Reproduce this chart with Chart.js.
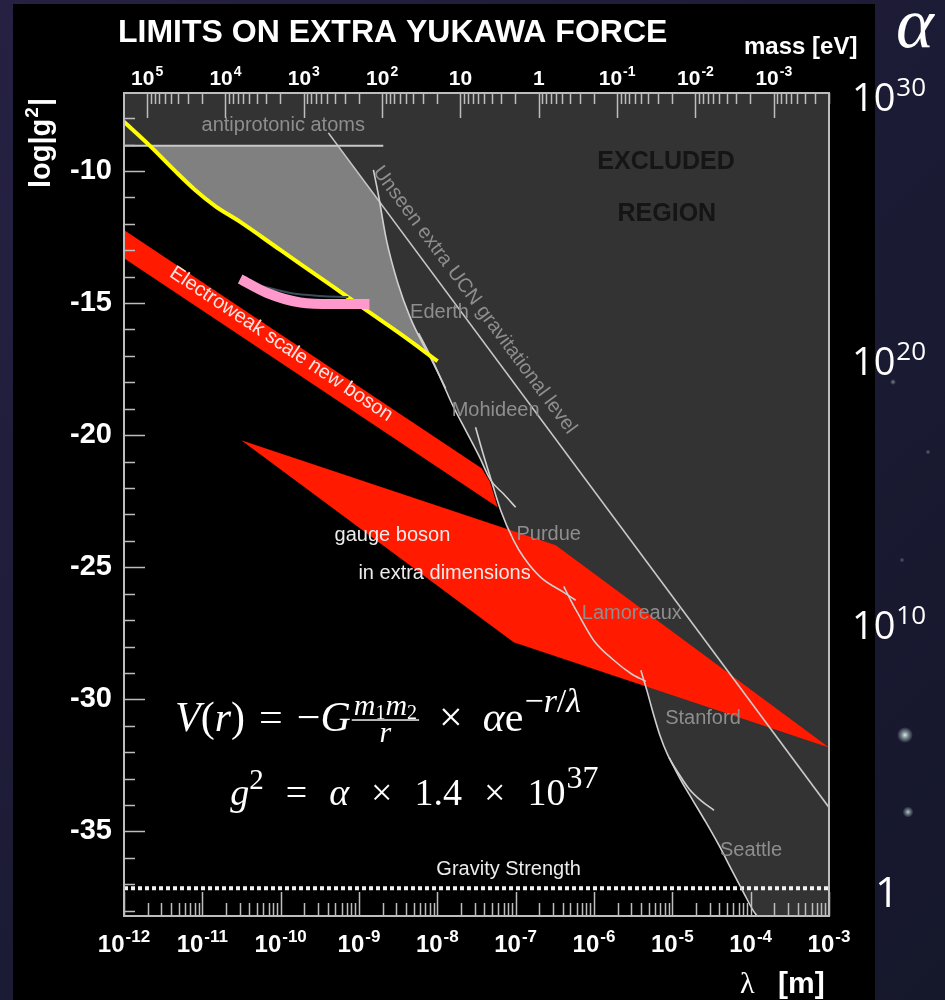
<!DOCTYPE html>
<html lang="en">
<head>
<meta charset="utf-8">
<title>Limits on extra Yukawa force</title>
<script src="https://cdn.jsdelivr.net/npm/chart.js@4.4.1/dist/chart.umd.min.js"></script>
<style>
  html, body { margin: 0; padding: 0; background: #18172b; }
  #chart { display: block; }
</style>
</head>
<body>
<canvas id="chart" width="945" height="1000"></canvas>
<script>
// ---------------------------------------------------------------------------
// Axes: x = log10(λ / m), y = log10 |g²|, top = log10(mass / eV), right = log10 α
// ---------------------------------------------------------------------------
const LAMBDA_MIN = -12, LAMBDA_MAX = -3;
const G2_MIN = -38.2, G2_MAX = -7.05;
const LOG_HBARC = Math.log10(1.97327e-7);      // ħc in eV·m
const ALPHA_OFFSET = 37.23;                    // log10 α = log10 g² + offset

const lambdaDecades = [-12, -11, -10, -9, -8, -7, -6, -5, -4, -3];
const massDecades   = [5, 4, 3, 2, 1, 0, -1, -2, -3, -4];
const g2Labels      = [-10, -15, -20, -25, -30, -35];
const alphaLabels   = [30, 20, 10, 0];

// ---------------------------------------------------------------------------
// Curves and regions, points are [log10 λ, log10 g²]
// ---------------------------------------------------------------------------
const excludedRegion = [
  [-12, -7.05], [-3, -7.05], [-3, -38.2], [-3.918, -38.2], [-3.969, -37.99], [-4.084, -37.35],
  [-4.238, -36.48], [-4.404, -35.53], [-4.570, -34.66], [-4.737, -33.83], [-4.890, -33.07],
  [-5.043, -32.20], [-5.159, -31.36], [-5.248, -30.49], [-5.325, -29.66], [-5.340, -29.32],
  [-5.529, -29.02], [-5.747, -28.52], [-6.003, -27.77], [-6.207, -26.74], [-6.297, -26.25],
  [-6.386, -25.95], [-6.680, -25.38], [-6.898, -24.62], [-7.026, -23.98], [-7.192, -22.84],
  [-7.320, -21.65], [-7.473, -20.76], [-7.639, -19.81], [-7.806, -18.86], [-7.959, -17.84],
  [-8.113, -16.86], [-8.189, -16.52], [-8.343, -15.57], [-8.509, -14.20], [-8.650, -12.61],
  [-8.736, -11.18], [-9.268, -9.05], [-12, -9.05]
];
const unconstrainedGap = [
  [-11.668, -9.05], [-9.268, -9.05], [-8.736, -11.18], [-8.650, -12.61], [-8.509, -14.20],
  [-8.343, -15.57], [-8.189, -16.52], [-8.085, -17.02], [-8.471, -16.17], [-8.893, -15.30],
  [-9.327, -14.39], [-10.005, -12.99], [-10.517, -11.93], [-10.836, -11.33], [-11.092, -10.72],
  [-11.348, -10.00]
];
const electroweakBand = [[-12, -12.235], [-7.435, -21.25], [-7.33, -21.75], [-7.23, -22.73], [-12, -13.30]];
const gaugeBosonBand  = [[-10.504, -20.19], [-6.488, -24.17], [-3.0, -31.82], [-7.026, -27.84]];

const antiprotonic = [[-12, -9.05], [-8.69, -9.05]];
const ucnLevel     = [[-9.391, -8.56], [-3.0, -34.09]];
const gravity      = [[-12, -37.15], [-3, -37.15]];

const yellowBound = [
  [-12.000, -8.14], [-11.668, -9.05], [-11.348, -10.00], [-11.092, -10.72], [-10.836, -11.33],
  [-10.517, -11.93], [-10.005, -12.99], [-9.327, -14.39], [-8.893, -15.30], [-8.471, -16.17],
  [-7.997, -17.20]
];
const pinkBound   = [[-10.517, -14.09], [-10.171, -14.62], [-9.749, -14.98], [-9.327, -15.04], [-8.867, -15.04]];
const shadowBound = [[-10.235, -14.36], [-9.877, -14.62], [-9.494, -14.73], [-9.136, -14.77]];

const ederth    = [[-8.816, -9.96], [-8.752, -10.91], [-8.650, -12.61], [-8.509, -14.20], [-8.343, -15.57], [-8.189, -16.52], [-8.061, -17.23], [-7.895, -18.22]];
const mohideen  = [[-8.240, -16.14], [-8.113, -16.86], [-7.959, -17.84], [-7.806, -18.86], [-7.639, -19.81], [-7.473, -20.76], [-7.320, -21.70], [-7.153, -22.23], [-7.000, -22.73]];
const purdue    = [[-7.512, -19.70], [-7.422, -20.64], [-7.320, -21.63], [-7.192, -22.84], [-7.026, -23.98], [-6.898, -24.62], [-6.680, -25.38], [-6.386, -25.95], [-6.233, -26.25]];
const lamoreaux = [[-6.386, -25.72], [-6.297, -26.25], [-6.207, -26.74], [-6.003, -27.77], [-5.747, -28.52], [-5.529, -29.02], [-5.338, -29.32]];
const stanford  = [[-5.402, -28.90], [-5.325, -29.66], [-5.248, -30.49], [-5.159, -31.36], [-5.056, -32.12], [-4.928, -32.77], [-4.788, -33.38], [-4.634, -33.83], [-4.468, -34.20]];
const seattle   = [[-5.043, -32.20], [-4.890, -33.07], [-4.737, -33.83], [-4.570, -34.66], [-4.404, -35.53], [-4.238, -36.48], [-4.084, -37.35], [-3.969, -37.99], [-3.918, -38.20]];

// ---------------------------------------------------------------------------
// Text placed on the plot (anchor = [log10 λ, log10 g²])
// ---------------------------------------------------------------------------
const SANS  = "'Liberation Sans', Arial, Helvetica, sans-serif";
const SERIF = "'Liberation Serif', 'Times New Roman', serif";
const LIGHT = "'Open Sans', 'Noto Sans', sans-serif";

const curveNotes = [
  { text: 'antiprotonic atoms', at: [-9.967, -8.295] },
  { text: 'Ederth',    at: [-7.972, -15.34] },
  { text: 'Mohideen',  at: [-7.256, -19.05] },
  { text: 'Purdue',    at: [-6.578, -23.75] },
  { text: 'Lamoreaux', at: [-5.517, -26.74] },
  { text: 'Stanford',  at: [-4.609, -30.72] },
  { text: 'Seattle',   at: [-3.995, -35.72] }
];
const whiteNotes = [
  { text: 'gauge boson',         at: [-8.573, -23.79] },
  { text: 'in extra dimensions', at: [-7.908, -25.23] },
  { text: 'Gravity Strength',    at: [-7.090, -36.44] }
];

const pts = arr => arr.map(([x, y]) => ({ x, y }));

function lineSet(data, color, width, order, extra) {
  return Object.assign({
    data: pts(data), showLine: true, borderColor: color, borderWidth: width,
    pointRadius: 0, fill: false, order, tension: 0
  }, extra || {});
}
function areaSet(data, color, order) {
  return {
    data: pts(data), showLine: true, borderWidth: 0, borderColor: 'rgba(0,0,0,0)',
    backgroundColor: color, fill: 'shape', pointRadius: 0, order, tension: 0
  };
}
const smooth = { cubicInterpolationMode: 'monotone' };
const EXP = '#cfcfcf';

const datasets = [
  lineSet(pinkBound, '#ff99cc', 10, 1, Object.assign({ borderCapStyle: 'butt' }, smooth)),
  lineSet(shadowBound, '#3b4c5b', 2, 2, smooth),
  lineSet(yellowBound, '#ffff00', 4, 3, smooth),
  lineSet(ederth, EXP, 1.6, 4, smooth),
  lineSet(mohideen, EXP, 1.6, 4, smooth),
  lineSet(purdue, EXP, 1.6, 4, smooth),
  lineSet(lamoreaux, EXP, 1.6, 4, smooth),
  lineSet(stanford, EXP, 1.6, 4, smooth),
  lineSet(seattle, EXP, 1.6, 4, smooth),
  lineSet(ucnLevel, '#c8c8c8', 1.6, 4),
  lineSet(antiprotonic, '#c8c8c8', 2, 4),
  lineSet(gravity, '#f2f2f2', 4, 5, { borderDash: [4, 3], borderCapStyle: 'butt' }),
  areaSet(gaugeBosonBand, '#ff1a00', 6),
  areaSet(electroweakBand, '#ff1a00', 6),
  areaSet(unconstrainedGap, '#808080', 7),
  areaSet(excludedRegion, '#333333', 8)
];

// ---------------------------------------------------------------------------
// Helpers for text with exponents / small formulas
// ---------------------------------------------------------------------------
function power(ctx, cx, baseY, base, exp, fBase, fExp, rise) {
  ctx.font = fBase; const wb = ctx.measureText(base).width;
  ctx.font = fExp;  const we = exp ? ctx.measureText(exp).width + 1 : 0;
  const x0 = cx - (wb + we) / 2;
  ctx.textAlign = 'left'; ctx.textBaseline = 'alphabetic';
  ctx.font = fBase; ctx.fillText(base, x0, baseY);
  if (exp) { ctx.font = fExp; ctx.fillText(exp, x0 + wb + 1, baseY - rise); }
}
function runWidth(ctx, runs) {
  let w = 0;
  for (const r of runs) { ctx.font = r.f; w += ctx.measureText(r.t).width + (r.gap || 0); }
  return w;
}
function drawRuns(ctx, x, y, runs) {
  for (const r of runs) {
    if (r.frac) {
      const wn = runWidth(ctx, r.num), wd = runWidth(ctx, r.den);
      const w = Math.max(wn, wd) + 4;
      drawRuns(ctx, x + (w - wn) / 2, y + r.numDy, r.num);
      drawRuns(ctx, x + (w - wd) / 2, y + r.denDy, r.den);
      ctx.fillRect(x, y + r.barDy, w, 1.4);
      x += w + (r.gap || 0);
      continue;
    }
    ctx.font = r.f;
    ctx.fillText(r.t, x, y + (r.dy || 0));
    x += ctx.measureText(r.t).width + (r.gap || 0);
  }
  return x;
}

// ---------------------------------------------------------------------------
// Plugins: page backdrop, then frame / ticks / labels on top of the datasets
// ---------------------------------------------------------------------------
const backdrop = {
  id: 'backdrop',
  beforeDraw(chart) {
    const { ctx, width, height } = chart;
    ctx.save();
    const g = ctx.createLinearGradient(0, 0, width, height);
    g.addColorStop(0, '#262143');
    g.addColorStop(0.5, '#1c1b35');
    g.addColorStop(1, '#15172b');
    ctx.fillStyle = g;
    ctx.fillRect(0, 0, width, height);
    const stars = [[905, 735, 3.2, 0.95], [908, 812, 2.2, 0.8], [893, 382, 1.2, 0.5], [928, 452, 1, 0.4], [902, 560, 1, 0.35]];
    for (const [sx, sy, r, a] of stars) {
      const sg = ctx.createRadialGradient(sx, sy, 0, sx, sy, r * 2.5);
      sg.addColorStop(0, `rgba(235,245,240,${a})`);
      sg.addColorStop(0.4, `rgba(200,225,220,${a * 0.6})`);
      sg.addColorStop(1, 'rgba(200,225,220,0)');
      ctx.fillStyle = sg;
      ctx.beginPath(); ctx.arc(sx, sy, r * 2.5, 0, Math.PI * 2); ctx.fill();
    }
    ctx.fillStyle = '#000';
    ctx.fillRect(13, 4, 862, height - 4);
    ctx.restore();
  }
};

const decorations = {
  id: 'decorations',
  afterDatasetsDraw(chart) {
    const { ctx, chartArea: a } = chart;
    const { x, xm, y, ya } = chart.scales;
    const P = (L, v) => [x.getPixelForValue(L), y.getPixelForValue(v)];
    ctx.save();

    // region captions
    ctx.textAlign = 'center'; ctx.textBaseline = 'middle';
    ctx.fillStyle = '#151515';
    ctx.font = `bold 25px ${SANS}`;
    let p = P(-5.08, -9.66);  ctx.fillText('EXCLUDED', p[0], p[1]);
    p = P(-5.07, -11.63);     ctx.fillText('REGION', p[0], p[1]);

    // experiment names
    ctx.font = `20px ${SANS}`;
    ctx.fillStyle = '#8e8e8e';
    for (const n of curveNotes) { p = P(...n.at); ctx.fillText(n.text, p[0], p[1]); }
    ctx.fillStyle = '#ececec';
    for (const n of whiteNotes) { p = P(...n.at); ctx.fillText(n.text, p[0], p[1]); }

    // text running along the UCN line
    const u0 = P(...ucnLevel[0]), u1 = P(...ucnLevel[1]);
    p = P(-7.524, -14.886);
    ctx.save();
    ctx.translate(p[0], p[1]);
    ctx.rotate(Math.atan2(u1[1] - u0[1], u1[0] - u0[0]));
    ctx.fillStyle = '#8e8e8e';
    ctx.fillText('Unseen extra UCN gravitational level', 0, 0);
    ctx.restore();

    // text running along the electroweak band
    const e0 = P(...electroweakBand[0]), e1 = P(...electroweakBand[1]);
    p = P(-9.992, -16.553);
    ctx.save();
    ctx.translate(p[0], p[1]);
    ctx.rotate(Math.atan2(e1[1] - e0[1], e1[0] - e0[0]));
    ctx.fillStyle = '#ffe6e6';
    ctx.fillText('Electroweak scale new boson', 0, 0);
    ctx.restore();

    // formulas
    ctx.textAlign = 'left'; ctx.textBaseline = 'alphabetic';
    ctx.fillStyle = '#ffffff';
    const it = s => `italic ${s}px ${SERIF}`, up = s => `${s}px ${SERIF}`;
    p = P(-11.348, -31.21);
    drawRuns(ctx, p[0], p[1], [
      { t: 'V', f: it(42) }, { t: '(', f: up(42) }, { t: 'r', f: it(42) }, { t: ')', f: up(42), gap: 14 },
      { t: '=', f: up(42), gap: 14 }, { t: '\u2212', f: up(42) }, { t: 'G', f: it(42), gap: 1 },
      { frac: true, numDy: -16, denDy: 11, barDy: -12, gap: 20,
        num: [{ t: 'm', f: it(30) }, { t: '1', f: up(20), dy: 4 }, { t: 'm', f: it(30) }, { t: '2', f: up(20), dy: 4 }],
        den: [{ t: 'r', f: it(30) }] },
      { t: '\u00d7', f: up(42), gap: 20 }, { t: '\u03b1', f: it(42) }, { t: 'e', f: up(42), gap: 1 },
      { t: '\u2212', f: up(34), dy: -19 }, { t: 'r', f: it(34), dy: -19 }, { t: '/', f: up(34), dy: -19 }, { t: '\u03bb', f: it(34), dy: -19 }
    ]);
    p = P(-10.644, -33.98);
    drawRuns(ctx, p[0], p[1], [
      { t: 'g', f: it(38) }, { t: '2', f: up(29), dy: -16, gap: 22 },
      { t: '=', f: up(38), gap: 22 }, { t: '\u03b1', f: it(38), gap: 22 }, { t: '\u00d7', f: up(38), gap: 22 },
      { t: '1.4', f: up(38), gap: 22 }, { t: '\u00d7', f: up(38), gap: 22 }, { t: '10', f: up(38), gap: 1 },
      { t: '37', f: up(32), dy: -17 }
    ]);

    // frame
    ctx.strokeStyle = '#bdbdbd';
    ctx.lineWidth = 2;
    ctx.strokeRect(a.left, a.top, a.right - a.left, a.bottom - a.top);

    // tick marks
    ctx.lineWidth = 1.5;
    ctx.beginPath();
    for (const n of lambdaDecades) {
      for (let k = 1; k <= 9; k++) {
        const v = n + Math.log10(k);
        if (v > LAMBDA_MAX + 1e-9) break;
        const px = Math.round(x.getPixelForValue(v)) + 0.5;
        ctx.moveTo(px, a.bottom); ctx.lineTo(px, a.bottom - (k === 1 ? 24 : 13));
      }
    }
    for (const n of massDecades) {
      for (let k = 1; k <= 9; k++) {
        const v = n + Math.log10(k);
        if (v < xm.min || v > xm.max) continue;
        const px = Math.round(xm.getPixelForValue(v)) + 0.5;
        ctx.moveTo(px, a.top); ctx.lineTo(px, a.top + (k === 1 ? 25 : 11));
      }
    }
    for (let v = Math.ceil(G2_MIN); v <= Math.floor(G2_MAX); v++) {
      const py = Math.round(y.getPixelForValue(v)) + 0.5;
      ctx.moveTo(a.left, py); ctx.lineTo(a.left + (v % 5 === 0 ? 21 : 11), py);
    }
    ctx.stroke();

    // wavelength labels
    ctx.fillStyle = '#ffffff';
    for (const n of lambdaDecades) {
      power(ctx, x.getPixelForValue(n), 952, '10', String(n), `bold 24px ${SANS}`, `bold 17px ${SANS}`, 10);
    }
    // mass labels
    for (const n of massDecades) {
      if (n < xm.min || n > xm.max) continue;
      const cx = xm.getPixelForValue(n);
      if (n === 0) power(ctx, cx, 85, '1', '', `bold 21px ${SANS}`, `bold 14px ${SANS}`, 9);
      else if (n === 1) power(ctx, cx, 85, '10', '', `bold 21px ${SANS}`, `bold 14px ${SANS}`, 9);
      else power(ctx, cx, 85, '10', String(n), `bold 21px ${SANS}`, `bold 14px ${SANS}`, 9);
    }
    // coupling α labels on the right
    for (const n of alphaLabels) {
      const cy = ya.getPixelForValue(n);
      if (n === 0) power(ctx, 887, cy + 17, '1', '', `42px ${LIGHT}`, `26px ${LIGHT}`, 15);
      else power(ctx, 889, cy + 13, '10', String(n), `38px ${LIGHT}`, `26px ${LIGHT}`, 15);
    }

    // titles
    ctx.textAlign = 'left';
    ctx.font = `bold 32px ${SANS}`;
    ctx.fillText('LIMITS ON EXTRA YUKAWA FORCE', 118, 42);
    ctx.font = `bold 24px ${SANS}`;
    ctx.fillText('mass [eV]', 744, 54);
    ctx.font = `30px ${SERIF}`;
    ctx.fillText('\u03bb', 740, 993);
    ctx.font = `bold 30px ${SANS}`;
    ctx.fillText('[m]', 778, 993);
    ctx.font = `italic 72px ${SERIF}`;
    ctx.fillText('\u03b1', 896, 47);

    // vertical axis title log|g²|
    ctx.save();
    ctx.translate(50, 188);
    ctx.rotate(-Math.PI / 2);
    ctx.font = `bold 29px ${SANS}`;
    let tx = 0;
    ctx.fillText('log|g', tx, 0); tx += ctx.measureText('log|g').width + 1;
    ctx.font = `bold 19px ${SANS}`;
    ctx.fillText('2', tx, -12); tx += ctx.measureText('2').width + 1;
    ctx.font = `bold 29px ${SANS}`;
    ctx.fillText('|', tx, 0);
    ctx.restore();

    ctx.restore();
  }
};

new Chart(document.getElementById('chart'), {
  type: 'scatter',
  data: { datasets },
  options: {
    responsive: false,
    devicePixelRatio: 1,
    animation: false,
    events: [],
    layout: { padding: { left: 0, right: 116, top: 93, bottom: 84 } },
    plugins: { legend: { display: false }, tooltip: { enabled: false } },
    scales: {
      x: { type: 'linear', position: 'bottom', min: LAMBDA_MIN, max: LAMBDA_MAX, display: false },
      xm: { type: 'linear', position: 'top', reverse: true,
            min: LOG_HBARC - LAMBDA_MAX, max: LOG_HBARC - LAMBDA_MIN, display: false },
      y: {
        type: 'linear', position: 'left', min: G2_MIN, max: G2_MAX,
        afterFit: s => { s.width = 124; },
        afterBuildTicks: s => {
          const t = [];
          for (let v = Math.ceil(G2_MIN); v <= Math.floor(G2_MAX); v++) t.push({ value: v });
          s.ticks = t;
        },
        grid: { display: false, drawTicks: false },
        border: { display: false },
        ticks: {
          autoSkip: false, padding: 12, color: '#ffffff',
          font: { family: SANS, size: 29, weight: 'bold' },
          callback: v => (g2Labels.includes(v) ? String(v) : '')
        }
      },
      ya: { type: 'linear', position: 'right', display: false,
            min: G2_MIN + ALPHA_OFFSET, max: G2_MAX + ALPHA_OFFSET }
    }
  },
  plugins: [backdrop, decorations]
});
</script>
</body>
</html>
